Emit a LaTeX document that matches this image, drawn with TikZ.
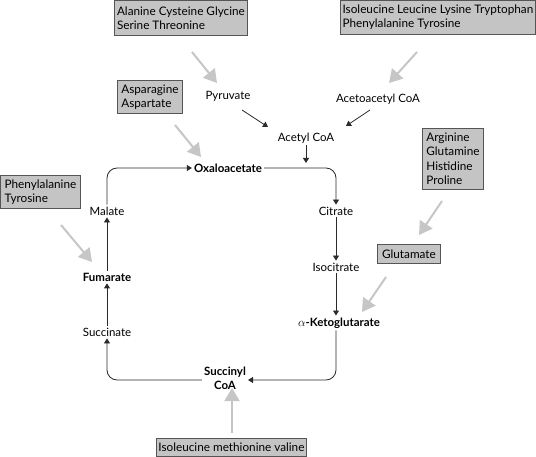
\documentclass[tikz,border=0pt]{standalone}
\usepackage{fontspec}
\setmainfont{Lato}
\usetikzlibrary{arrows.meta,calc}
\definecolor{boxfill}{HTML}{C4C4C4}
\definecolor{boxborder}{HTML}{555555}
\definecolor{flowcol}{HTML}{2A2A2A}
\definecolor{feedcol}{HTML}{C6C6C6}
\begin{document}
\begin{tikzpicture}[x=1bp,y=-1bp,
  lbl/.style={font=\fontsize{11.5}{14}\selectfont, inner sep=2bp, align=center},
  blbl/.style={font=\fontsize{11.5}{14}\selectfont\bfseries, inner sep=2bp, align=center},
  box/.style={draw=boxborder, fill=boxfill, line width=0.9bp, font=\fontsize{11.8}{14.5}\selectfont, align=left, anchor=north west, inner sep=0pt},
  flow/.style={draw=flowcol, line width=0.8bp, rounded corners=10bp, -{Triangle[length=5bp,width=6bp]}},
  feed/.style={draw=feedcol, line width=2bp, -{Triangle[length=13bp,width=15bp]}},
]
\useasboundingbox (0,0) rectangle (536,457);
% boxes
\node[box, minimum width=133bp, minimum height=35bp] (b1) at (114,0) {Alanine Cysteine Glycine\\Serine Threonine};
\node[box, minimum width=195bp, minimum height=34bp] (b2) at (340,0) {Isoleucine Leucine Lysine Tryptophan\\Phenylalanine Tyrosine};
\node[box, minimum width=65bp, minimum height=33bp] (b3) at (117,80) {Asparagine\\Aspartate};
\node[box, minimum width=61bp, minimum height=61bp] (b4) at (422,128) {Arginine\\Glutamine\\Histidine\\Proline};
\node[box, minimum width=80bp, minimum height=33bp] (b5) at (0,175) {Phenylalanine\\Tyrosine};
\node[box, minimum width=63bp, minimum height=19bp] (glu) at (377,244) {Glutamate};
\node[box, minimum width=150bp, minimum height=18bp] (b7) at (156,438) {Isoleucine methionine valine};
% labels
\node[lbl] (pyr) at (228,96) {Pyruvate};
\node[lbl] (aac) at (378,99) {Acetoacetyl CoA};
\node[lbl] (acc) at (306,138) {Acetyl CoA};
\node[blbl] (oxa) at (228,168) {Oxaloacetate};
\node[lbl] (cit) at (336,211) {Citrate};
\node[lbl] (iso) at (336,267) {Isocitrate};
\node[blbl] (akg) at (339,323) {\(\alpha\)-Ketoglutarate};
\node[blbl] (suc) at (225,378) {Succinyl\\CoA};
\node[lbl] (sin) at (107,332) {Succinate};
\node[blbl] (fum) at (107,277) {Fumarate};
\node[lbl] (mal) at (107,211) {Malate};
% flow arrows
\coordinate (p1) at (242,110); \coordinate (p2) at (268,127);
\coordinate (q1) at (370,110); \coordinate (q2) at (346,126);
\coordinate (accend) at (306,163);
\draw[flow] (p1) -- (p2);
\draw[flow] (q1) -- (q2);
\draw[flow] (acc.south) -- (accend);
\draw[flow] (mal.north) |- (oxa.west);
\draw[flow] (oxa.east) -| (cit.north);
\draw[flow] (cit.south) -- (iso.north);
\draw[flow] (iso.south) -- (iso.south |- akg.north);
\draw[flow] (iso.south |- akg.south) |- ([yshift=-2bp]suc.east);
\draw[flow] ([yshift=-2bp]suc.west) -| (sin.south);
\draw[flow] (sin.north) -- (fum.south);
\draw[flow] (fum.north) -- (mal.south);
% feeder arrows
\coordinate (f1a) at (192,52); \coordinate (f1b) at (217,83);
\coordinate (f2a) at (417,52); \coordinate (f2b) at (389,83);
\coordinate (f3a) at (175,125); \coordinate (f3b) at (201,157);
\coordinate (f4a) at (442,201); \coordinate (f4b) at (419,235);
\coordinate (f5a) at (386,277); \coordinate (f5b) at (362,312);
\coordinate (f6a) at (61,225); \coordinate (f6b) at (92,262);
\coordinate (f7a) at (232,433); \coordinate (f7b) at (232,388);
\draw[feed] (f1a) -- (f1b);
\draw[feed] (f2a) -- (f2b);
\draw[feed] (f3a) -- (f3b);
\draw[feed] (f4a) -- (f4b);
\draw[feed] (f5a) -- (f5b);
\draw[feed] (f6a) -- (f6b);
\draw[feed] (f7a) -- (f7b);
\end{tikzpicture}
\end{document}
